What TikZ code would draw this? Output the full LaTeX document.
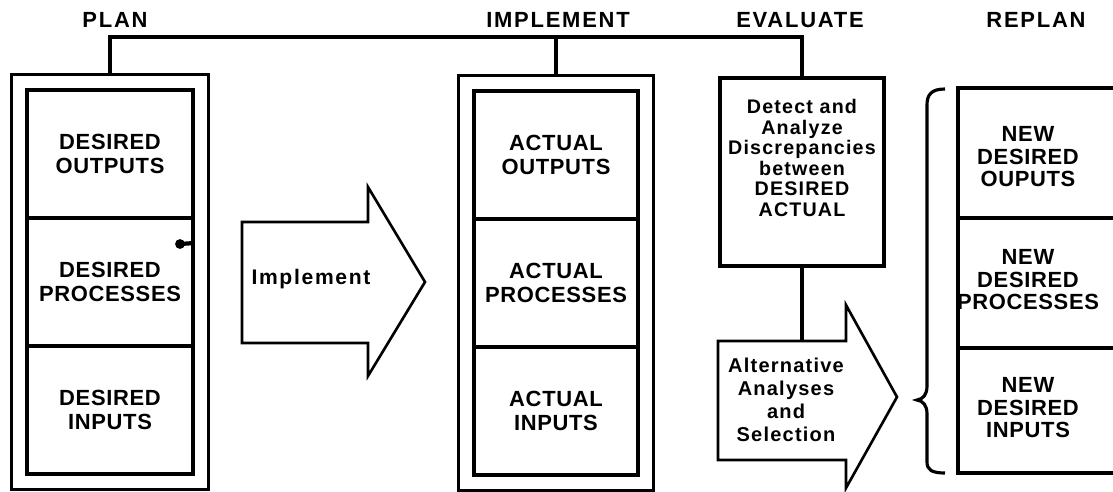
\documentclass[tikz,border=0pt]{standalone}
\usepackage{fontspec}
\setmainfont{Liberation Sans}
\newfontfamily\headfont[LetterSpace=8]{Liberation Sans}
\newfontfamily\cellfont[LetterSpace=3]{Liberation Sans}
\newfontfamily\notefont[LetterSpace=6]{Liberation Sans}
\usetikzlibrary{shapes,positioning,fit,calc}

\begin{document}
\begin{tikzpicture}[x=0.02cm, y=-0.02cm]

        % one unit is one pixel of the sheet, y runs downwards
        \tikzset{
            heading/.style={font={\headfont\bfseries\fontsize{12.5}{14}\selectfont}},
            cell/.style={draw, line width=1.8pt, align=center,
                minimum height=2.56cm, inner sep=0pt,
                font={\cellfont\bfseries\fontsize{12.5}{14}\selectfont}},
            outerbox/.style={draw, line width=1.9pt, inner sep=0.28cm},
            note/.style={align=center, inner sep=0pt,
                font={\notefont\bfseries\fontsize{11}{11.6}\selectfont}},
            newcell/.style={align=center, inner sep=0pt,
                font={\cellfont\bfseries\fontsize{12.5}{12.8}\selectfont}},
            arrowline/.style={line width=1.5pt, line join=miter},
        }

        \useasboundingbox (0,0) rectangle (1113,491);

        % headings over the four stages
        \node[heading] (plan) at (115,20) {PLAN};
        \node[heading] (impl) at (558,20) {IMPLEMENT};
        \node[heading] (eval) at (800,20) {EVALUATE};
        \node[heading] (replan) at (1036,20) {REPLAN};
        \coordinate (bar) at (0,37);

        % desired column
        \begin{scope}[cell/.append style={minimum width=3.32cm}]
            \node[cell] (des1) at (110,154) {DESIRED\\OUTPUTS};
            \node[cell] (des2) at (110,282) {DESIRED\\PROCESSES};
            \node[cell] (des3) at (110,410) {DESIRED\\INPUTS};
        \end{scope}
        \node[outerbox, fit=(des1)(des3)] (planbox) {};
        \fill (180,244) circle (2.8pt);
        \draw[line width=2.4pt] (180,244) -- (des2.east |- 0,243);

        % the implement arrow
        \draw[arrowline] (242,222) -- (368,222) -- (368,187) -- (425,282)
            -- (368,376) -- (368,343) -- (242,343) -- cycle;
        \node[note, font={\headfont\bfseries\fontsize{12}{14}\selectfont}]
            (implement) at (311,279) {Implement};

        % actual column
        \begin{scope}[cell/.append style={minimum width=3.28cm}]
            \node[cell] (act1) at (556,155) {ACTUAL\\OUTPUTS};
            \node[cell] (act2) at (556,283) {ACTUAL\\PROCESSES};
            \node[cell] (act3) at (556,411) {ACTUAL\\INPUTS};
        \end{scope}
        \node[outerbox, fit=(act1)(act3)] (actbox) {};

        % evaluate box and the selection arrow under it
        \node[draw, line width=1.8pt, minimum width=3.28cm,
            minimum height=3.76cm] (detect) at (802,172) {};
        \node[note, font={\notefont\bfseries\fontsize{11.2}{11.7}\selectfont}]
            (detecttxt) at (802,158)
            {Detect and\\Analyze\\Discrepancies\\between\\DESIRED\\ACTUAL};
        \draw[arrowline] (718,341) -- (846,341) -- (846,305) -- (897,397)
            -- (846,488) -- (846,460) -- (718,460) -- cycle;
        \node[note, font={\notefont\bfseries\fontsize{11.4}{13}\selectfont}]
            (select) at (786,400) {Alternative\\Analyses\\and\\Selection};
        \coordinate (seltop) at (detect.south |- 0,341);

        % brace and the new column, open to the right
        \draw[line width=1.8pt] (945,89) .. controls (931,89) and (927,95) .. (927,105)
            -- (927,386) .. controls (927,395) and (923,399) .. (917,400)
            .. controls (923,401) and (927,405) .. (927,414)
            -- (927,462) .. controls (927,470) and (932,473) .. (945,473);
        \draw[line width=1.8pt] (1120,88) -- (958,88) -- (958,473) -- (1120,473);
        \draw[line width=1.8pt] (958,218) -- (1120,218);
        \draw[line width=1.8pt] (958,348) -- (1120,348);
        \node[newcell] (new1) at (1028,157) {NEW\\DESIRED\\OUPUTS};
        \node[newcell] (new2) at (1028,280) {NEW\\DESIRED\\PROCESSES};
        \node[newcell] (new3) at (1028,408) {NEW\\DESIRED\\INPUTS};

        \begin{scope}[line width=1.9pt]
            \draw (planbox.north) |- (detect.north |- bar) -- (detect.north);
            \draw (actbox.north) -- (actbox.north |- bar);
            \draw (detect.south) -- (seltop);
        \end{scope}

        \end{tikzpicture}
\end{document}
